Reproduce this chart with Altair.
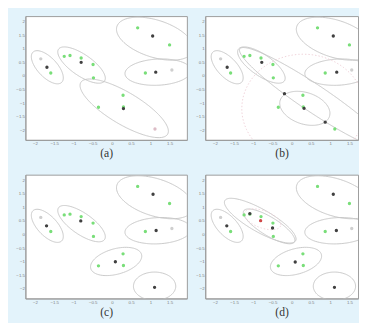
import math
import altair as alt
import pandas as pd

# ---------------- data ----------------
x_ticks = [-2, -1.5, -1, -0.5, 0, 0.5, 1, 1.5]
y_ticks = [2, 1.5, 1, 0.5, 0, -0.5, -1, -1.5, -2]
captions = ["(a)", "(b)", "(c)", "(d)"]

# observed samples (green), shared by all four panels
green_x = [0.67, 1.50, -1.59, -1.24, -1.09, -0.80, -0.49, -0.48, 0.87, 0.29, -0.35, 0.30]
green_y = [1.77, 1.14, 0.11, 0.72, 0.75, 0.66, 0.42, -0.07, 0.11, -0.71, -1.15, -1.14]

# pale samples per panel
pale_a = [(-1.85, 0.63, "pale"), (1.56, 0.22, "pale"), (1.12, -1.95, "pink")]
pale_b = [(-1.85, 0.63, "pale"), (1.56, 0.22, "pale"), (1.12, -1.95, "green")]
pale_c = [(-1.85, 0.63, "pale"), (1.56, 0.22, "pale")]
pale_d = [(-1.85, 0.63, "pale"), (1.56, 0.22, "pale")]

# component centres per panel
centres_a = [(1.06, 1.47), (-1.69, 0.32), (-0.80, 0.50), (1.14, 0.14), (0.30, -1.20)]
centres_b = [(1.08, 1.47), (-1.68, 0.32), (-0.78, 0.50), (1.17, 0.14), (-0.19, -0.65),
             (0.32, -1.19), (0.87, -1.70)]
centres_c = [(1.07, 1.48), (-1.70, 0.32), (-0.81, 0.50), (1.15, 0.15), (0.09, -1.00), (1.11, -1.94)]
centres_d = [(1.08, 1.48), (-1.69, 0.32), (-1.09, 0.77), (-0.50, 0.24), (1.16, 0.15),
             (0.09, -1.01), (1.11, -1.94)]
red_d = [(-0.81, 0.51)]

# ellipses: centre x, centre y, semi-axis u (x, y), conjugate semi-axis v (x, y), style
ell_top_right = (1.12, 1.37, 0.99, -0.45, -0.15, -0.65, "solid")
ell_left = (-1.68, 0.32, 0.37, -0.56, 0.19, 0.24, "solid")
ell_c2 = (-0.79, 0.40, 0.60, -0.58, 0.15, 0.33, "solid")
ell_right = (1.20, 0.14, 0.86, 0.07, 0.03, -0.48, "solid")
ell_bottom_a = (0.32, -1.19, 1.13, -0.95, 0.21, 0.51, "solid")
ell_mid_b = (0.34, -1.19, 0.64, -0.30, -0.13, -0.55, "solid")
ell_long_b = (0.58, -0.83, 1.93, -1.83, -0.20, -0.41, "solid")
ell_dot_b = (0.30, -1.20, 1.60, 0.0, 0.0, 2.00, "dot")
ell_mid_c = (0.11, -0.99, 0.66, 0.26, 0.09, -0.45, "solid")
ell_br_c = (1.11, -1.90, 0.55, 0.0, 0.0, 0.52, "solid")
ell_outer_d = (-0.82, 0.51, 0.92, -0.74, 0.15, 0.36, "solid")
ell_inner_d = (-0.59, 0.30, 0.66, -0.57, 0.12, 0.29, "solid")
ell_dot_d = (-0.76, 0.56, 0.47, -0.24, -0.07, -0.30, "dot")

ellipses = {
    "a": [ell_top_right, ell_left, ell_c2, ell_right, ell_bottom_a],
    "b": [ell_top_right, ell_left, ell_c2, ell_right, ell_mid_b, ell_long_b, ell_dot_b],
    "c": [ell_top_right, ell_left, ell_c2, ell_right, ell_mid_c, ell_br_c],
    "d": [ell_top_right, ell_left, ell_outer_d, ell_inner_d, ell_dot_d, ell_right, ell_mid_c, ell_br_c],
}
pales = {"a": pale_a, "b": pale_b, "c": pale_c, "d": pale_d}
centres = {"a": centres_a, "b": centres_b, "c": centres_c, "d": centres_d}
reds = {"a": [], "b": [], "c": [], "d": red_d}

# ---------------- build tables ----------------
def ellipse_table(panel):
    rows = []
    n = 80
    for k, (cx, cy, ux, uy, vx, vy, st) in enumerate(ellipses[panel]):
        for i in range(n + 1):
            t = 2 * math.pi * i / n
            rows.append({"eid": k, "i": i,
                         "x": cx + ux * math.cos(t) + vx * math.sin(t),
                         "y": cy + uy * math.cos(t) + vy * math.sin(t),
                         "style": st})
    return pd.DataFrame(rows)


def point_table(panel):
    rows = []
    for x, y, kind in pales[panel]:
        rows.append({"x": x, "y": y, "kind": kind})
    for x, y in zip(green_x, green_y):
        rows.append({"x": x, "y": y, "kind": "green"})
    for x, y in centres[panel]:
        rows.append({"x": x, "y": y, "kind": "centre"})
    for x, y in reds[panel]:
        rows.append({"x": x, "y": y, "kind": "red"})
    return pd.DataFrame(rows)


PX_PER_X = 167 / 4.2
H = 128
Y_DOMAIN = [-2.35, 2.2]

kind_dom = ["pale", "pink", "green", "centre", "red"]
kind_col = ["#cfcfcf", "#dcbcc6", "#79de79", "#404040", "#d04848"]
kind_size = [12, 12, 8, 8, 10]


def panel(p, cap, width):
    x_dom = [-2.25, -2.25 + width / PX_PER_X]
    xs = alt.Scale(domain=x_dom, nice=False, zero=False)
    ys = alt.Scale(domain=Y_DOMAIN, nice=False, zero=False)
    xax = alt.Axis(values=x_ticks, format="~g", title=cap, labelOverlap=False)
    yax = alt.Axis(values=y_ticks, format="~g", title="", labelOverlap=False)
    lines = alt.Chart(ellipse_table(p)).mark_line(clip=True, strokeWidth=1).encode(
        x=alt.X("x:Q", scale=xs, axis=xax),
        y=alt.Y("y:Q", scale=ys, axis=yax),
        detail="eid:N",
        order="i:Q",
        color=alt.Color("style:N", scale=alt.Scale(domain=["solid", "dot"],
                                                   range=["#c6c6c6", "#efd2da"]), legend=None),
        strokeDash=alt.StrokeDash("style:N", scale=alt.Scale(domain=["solid", "dot"],
                                                             range=[[1, 0], [1.5, 2]]), legend=None),
    )
    pts = alt.Chart(point_table(p)).mark_point(filled=True, clip=True, opacity=1).encode(
        x=alt.X("x:Q", scale=xs, axis=xax),
        y=alt.Y("y:Q", scale=ys, axis=yax),
        fill=alt.Fill("kind:N", scale=alt.Scale(domain=kind_dom, range=kind_col), legend=None),
        size=alt.Size("kind:N", scale=alt.Scale(domain=kind_dom, range=kind_size), legend=None),
    )
    return alt.layer(lines, pts).resolve_scale(color="independent").properties(width=width, height=H)


pa = panel("a", captions[0], 167)
pb = panel("b", captions[1], 158)
pc = panel("c", captions[2], 167)
pd_ = panel("d", captions[3], 158)

chart = alt.vconcat(
    alt.hconcat(pa, pb, spacing=7),
    alt.hconcat(pc, pd_, spacing=7),
    spacing=15,
).properties(
    padding={"left": 7, "top": 2, "right": 0, "bottom": 0},
    background="#e3f3fb",
).configure_view(
    stroke="#9a9a9a", fill="white", strokeWidth=1
).configure_axis(
    grid=False, ticks=False, labelFontSize=4.5, labelColor="#808080",
    labelFont="Liberation Sans", labelPadding=1, domainColor="#9a9a9a",
    titleFont="Liberation Serif", titleFontSize=12, titleFontWeight="normal",
    titleColor="#333333", titlePadding=3,
)

chart.save("out.html", embed_options={"renderer": "svg", "actions": False})
